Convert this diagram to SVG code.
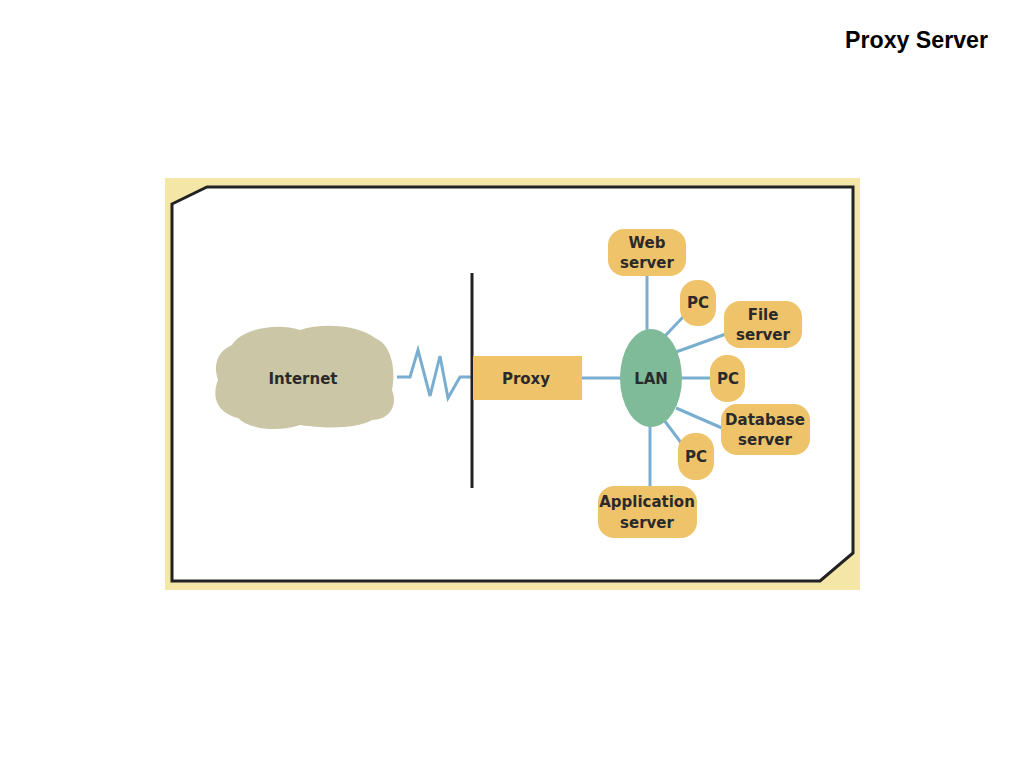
<svg xmlns="http://www.w3.org/2000/svg" width="1024" height="768" viewBox="0 0 1024 768">
<style>
.t{font-family:"DejaVu Sans","Liberation Sans",sans-serif;font-weight:bold;font-size:15px;fill:#2a2a2a;text-anchor:middle}
.n{fill:#eec36a}
.c{stroke:#7aaed0;stroke-width:3;fill:none}
</style>
<rect width="1024" height="768" fill="#fff"/>
<text x="988" y="48" font-family="Liberation Sans,sans-serif" font-weight="bold" font-size="24" text-anchor="end" textLength="143" lengthAdjust="spacingAndGlyphs">Proxy Server</text>
<rect x="165" y="178" width="695" height="412" fill="#f3e6a6"/>
<polygon points="172,204 207,187 853,187 853,553 820,581 172,581" fill="#fff" stroke="#222" stroke-width="3"/>
<g id="connectors">
<polyline class="c" points="397,377 410,377 418,350 430,396 440,356 448,398 460,377 472,377"/>
<line class="c" x1="582" y1="378" x2="622" y2="378"/>
<line class="c" x1="647" y1="276" x2="647" y2="332"/>
<line class="c" x1="664" y1="337" x2="684" y2="316"/>
<line class="c" x1="676" y1="352" x2="726" y2="334"/>
<line class="c" x1="682" y1="378" x2="711" y2="378"/>
<line class="c" x1="676" y1="408" x2="722" y2="428"/>
<line class="c" x1="664" y1="420" x2="682" y2="444"/>
<line class="c" x1="650" y1="425" x2="650" y2="487"/>
<line x1="472" y1="273" x2="472" y2="488" stroke="#222" stroke-width="3"/>
</g>
<g id="internet">
<path d="M232,345 C240,330 275,322 300,330 C325,322 360,326 375,338 C392,345 396,370 392,390 C398,405 390,420 372,420 C355,430 320,428 300,425 C280,432 250,430 238,418 C215,412 212,395 218,380 C212,362 220,350 232,345 Z" fill="#cbc7a6"/>
<text class="t" x="303" y="384">Internet</text>
</g>
<g id="proxy"><rect class="n" x="473" y="356" width="109" height="44"/><text class="t" x="526" y="384">Proxy</text></g>
<g id="lan"><ellipse cx="651" cy="378" rx="31" ry="49" fill="#7fbb98"/><text class="t" x="651" y="384">LAN</text></g>
<g id="web"><rect class="n" x="608" y="229" width="78" height="47" rx="16"/><text class="t" x="647" y="248">Web</text><text class="t" x="647" y="268">server</text></g>
<g id="pc1"><rect class="n" x="680" y="280" width="36" height="46" rx="17"/><text class="t" x="698" y="308">PC</text></g>
<g id="file"><rect class="n" x="724" y="301" width="78" height="47" rx="16"/><text class="t" x="763" y="320">File</text><text class="t" x="763" y="340">server</text></g>
<g id="pc2"><rect class="n" x="710" y="355" width="35" height="47" rx="17"/><text class="t" x="728" y="384">PC</text></g>
<g id="db"><rect class="n" x="721" y="404" width="89" height="51" rx="16"/><text class="t" x="765" y="425">Database</text><text class="t" x="765" y="445">server</text></g>
<g id="pc3"><rect class="n" x="678" y="433" width="36" height="47" rx="17"/><text class="t" x="696" y="462">PC</text></g>
<g id="app"><rect class="n" x="598" y="486" width="99" height="52" rx="16"/><text class="t" x="647" y="507">Application</text><text class="t" x="647" y="528">server</text></g>
</svg>
